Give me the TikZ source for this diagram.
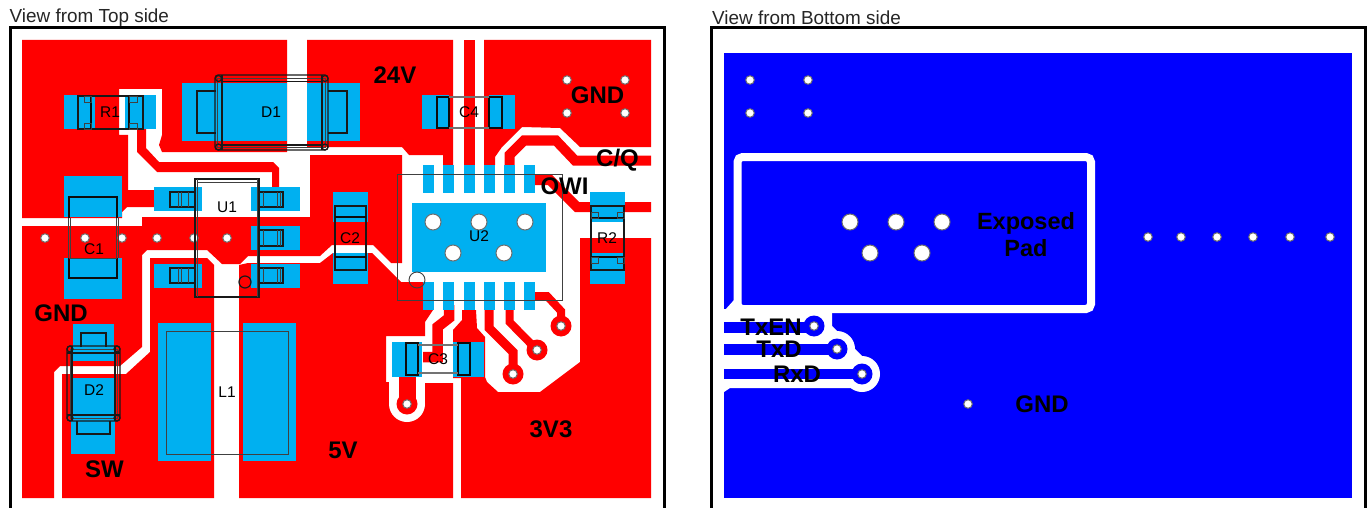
\documentclass[tikz,border=0pt]{standalone}
\usepackage{fontspec}
\setmainfont{Liberation Sans}
\definecolor{cu}{RGB}{255,0,0}
\definecolor{padc}{RGB}{0,176,240}
\definecolor{botc}{RGB}{0,0,255}
\definecolor{ring}{RGB}{110,110,110}
\tikzset{
  cutop/.style={fill=cu},
  tr/.style={draw=cu,line width=#1,miter limit=4},
  padb/.style={fill=padc},
  ol/.style={draw=black!90,line width=1.2pt},
  olt/.style={draw=black!75,line width=.7pt},
  olk/.style={draw=black!95,line width=1.7pt},
  via/.style={circle,fill=white,draw=ring,line width=1pt,minimum size=8.5pt,inner sep=0pt},
  hole/.style={circle,fill=white,draw=ring,line width=1pt,minimum size=16pt,inner sep=0pt},
  refd/.style={font=\fontsize{15.5}{17}\selectfont,text=black,inner sep=0pt},
  net/.style={font=\bfseries\fontsize{24}{26}\selectfont,text=black,inner sep=0pt},
  ttl/.style={font=\fontsize{18.9}{21}\selectfont,text=black!85,inner sep=0pt,anchor=west},
  frm/.style={draw=black,line width=3pt},
}
\begin{document}
\begin{tikzpicture}[x=1pt,y=-1pt]
\useasboundingbox (0,0) rectangle (1370,508);
\clip (0,0) rectangle (1370,508);
\fill[white] (0,0) rectangle (1370,508);
% ---- frames
\draw[frm] (10.5,512)--(10.5,27.5)--(664,27.5)--(664,512);
\draw[frm] (711.5,512)--(711.5,27.5)--(1365,27.5)--(1365,512);
\node[ttl] (t1) at (9.5,17.5) {View from Top side};
\node[ttl] (t2) at (712,17.5) {View from Bottom side};
% ---- top copper
\fill[cutop] (22,40)--(287,40)--(287,152)--(162,152)--(159,145)--(162,135)--(162,89)--(119,89)--(119,135)--(128,135)--(128,190)--(154,190)--(154,207)--(127,207)--(122,212)--(122,218)--(22,218)--cycle;
\fill[cutop] (307,40)--(453,40)--(453,165)--(443,165)--(443,155)--(409,155)--(402,147)--(307,147)--cycle;
\fill[cutop] (463.5,40) rectangle (474.5,170);
\fill[cutop] (484,40)--(651,40)--(651,147)--(580,147)--(560,128)--(522,127)--(502,147)--(495,157)--(495,165)--(484,165)--cycle;
\fill[cutop] (22,226)--(142,226)--(142,217)--(310,217)--(310,155)--(402,155)--(402,263)--(391,263)--(373,245)--(332,245)--(320,256)--(248,256)--(240,264)--(222,264)--(207,250)--(147,250)--(142,255)--(142,347)--(120,366)--(60,366)--(54,372)--(54,498)--(22,498)--cycle;
\fill[cutop] (62,374)--(126,374)--(150,352)--(150,258)--(207,258)--(214,265)--(214,498)--(62,498)--cycle;
\fill[cutop] (239,498)--(239,265)--(248,263)--(320,263)--(333,253)--(372,253)--(401,282)--(433,282)--(433,310)--(425,322)--(425,336)--(386,336)--(386,382)--(389,382)--(389,404)--(425,404)--(425,383)--(453,383)--(453,498)--cycle;
\fill[cutop] (580,238)--(651,238)--(651,498)--(461,498)--(461,378)--(453,378)--(453,330)--(462,320)--(462,310)--(476,310)--(477,328)--(485,337)--(485,377)--(487,382)--(498,392)--(540,392)--(580,362)--cycle;
% C3 via clearance
\fill[white] (407,404) circle[radius=18];
\fill[white] (389,380) rectangle (425,404);
% traces
\fill[cutop] (137,125)--(146,125)--(146,148)--(159,162)--(273,162)--(279,168)--(279,190)--(272,190)--(272,172)--(157,172)--(137,152)--cycle;
\draw[tr=10] (509.5,168)--(509.5,155)--(524,140.5)--(556,140.5)--(575,160.5)--(651,160.5);
\draw[tr=10] (530,180)--(550,180)--(577,207)--(651,207);
\draw[tr=10.5] (449,305)--(449,318)--(437.5,327)--(437.5,357)--(423,357);
\draw[tr=9] (489,305)--(489,328)--(513,352)--(513,374);
\draw[tr=8] (509.5,305)--(509.5,322)--(537,350);
\draw[tr=8] (530,296)--(547,296)--(561,311)--(561,326);
\draw[tr=17] (407.5,375)--(407.5,404);
\fill[cu] (407,404) circle[radius=10.5];
\fill[cu] (513,374) circle[radius=10.5];
\fill[cu] (537,350) circle[radius=10.5];
\fill[cu] (561,326) circle[radius=10.5];
% ---- pads
\foreach \a/\b/\c/\d in {64/95/95/129,125/95/156/129,182/83/287/141,307/83/360/141,422/95/449/129,489/95/515/129,
  64/176/122/217,64/258/122/299,333/192/368/222,333/253/368/284,392/342/422/377,453/342/484/377,
  590/192/625/222,590/253/625/284,154/187/202/211,251/187/300/211,251/226/300/250,154/264/202/288,251/264/300/288,
  158/323/211/461,243/323/296/461,73/324/114/361,71/378/115/454,412/203/546/272}
  {\fill[padb] (\a,\b) rectangle (\c,\d);}
\foreach \a in {423,443,463.5,484,504,524}
  {\fill[padb] (\a,165) rectangle ++(11,28);
   \fill[padb] (\a,282) rectangle ++(11,28);}
% ---- vias
\foreach \p/\x/\y in {a/45/238,b/85/238,c/122/238,d/157/238,e/194/238,f/227/238,g/567/80,h/625/80,i/567/113,j/625/113,k/407/404,l/513/374,m/537/350,n/561/326}
  {\node[via] (v\p) at (\x,\y) {};}
\foreach \p/\x/\y in {a/433/222,b/479/222,c/525/222,d/453/253,e/504/253}
  {\node[hole] (h\p) at (\x,\y) {};}
% ---- outlines
% R1
\draw[ol] (78,96) rectangle (143,129);
\draw[olk] (91,96)--(91,129) (129,96)--(129,129);
\draw[olt] (84,96) rectangle (91,102) (84,123) rectangle (91,129) (129,96) rectangle (137,102) (129,123) rectangle (137,129);
% D1
\draw[ol,rounded corners=3pt] (215,75) rectangle (328,150);
\draw[olt] (217.5,78.5) rectangle (325.5,147);
\draw[ol] (222,81.5)--(322,81.5) (222,145)--(322,145) (222,75)--(222,150) (322,75)--(322,150);
\draw[ol] (216,91)--(197,91)--(197,133)--(216,133) (328,91)--(347,91)--(347,133)--(328,133);
\foreach \x/\y in {218.5/78.5,325/78.5,218.5/147,325/147}{\draw[ol] (\x,\y) circle[radius=3];}
% C4
\draw[olk] (437,97) rectangle (449,128) (489,97) rectangle (502,128);
\draw[ol,black!55] (449,97)--(489,97) (449,128)--(489,128);
% C1
\draw[olk] (69,197)--(117,197) (69,278)--(117,278) (69,196)--(69,218) (117,196)--(117,218) (69,258)--(69,279) (117,258)--(117,279);
\draw[olt] (70,218)--(70,258) (116,218)--(116,258) (68,218)--(68,258) (118,218)--(118,258) (69,258)--(117,258);
% C2
\draw[ol] (335,206) rectangle (366,270);
\draw[olk] (335,217)--(366,217) (335,257)--(366,257);
% C3
\draw[olk] (406,343) rectangle (418,375) (458,343) rectangle (470,375);
\draw[ol,black!55] (418,345)--(458,345) (418,373)--(458,373);
% R2
\draw[ol] (591,206) rectangle (624,270);
\draw[olk] (591,218)--(624,218) (591,257)--(624,257);
\draw[olt] (591,212) rectangle (598,218) (617,212) rectangle (624,218) (591,257) rectangle (598,263) (617,257) rectangle (624,263);
% U1
\draw[ol] (195,179) rectangle (259,297);
\draw[olt] (197,182)--(257,182) (197,179)--(197,297) (257,179)--(257,297);
\foreach \y in {192,268}{
  \draw[ol] (170,\y) rectangle (195,\y+15);
  \draw[olt] (178,\y)--(178,\y+15) (181,\y)--(181,\y+15) (188,\y)--(188,\y+15);
  \draw[ol] (259,\y) rectangle (283,\y+15);
  \draw[olt] (263,\y)--(263,\y+15) (277,\y)--(277,\y+15) (280,\y)--(280,\y+15);}
\draw[ol] (259,230) rectangle (283,246);
\draw[olt] (263,230)--(263,246) (277,230)--(277,246) (280,230)--(280,246);
\draw[ol] (245,282) circle[radius=6];
% U2
\draw[olt] (397,174) rectangle (562,300);
\draw[draw=black!75,line width=.9pt] (417,280) circle[radius=8];
% L1
\draw[olt] (166,331) rectangle (288,454);
% D2
\draw[ol,rounded corners=3pt] (67,346) rectangle (120,421);
\draw[olt] (70,349) rectangle (117,418);
\draw[ol] (67,353)--(120,353) (67,415)--(120,415) (72,346)--(72,421) (115,346)--(115,421);
\draw[ol] (81,347)--(81,333)--(106,333)--(106,347) (77,421)--(77,434)--(110,434)--(110,421);
\foreach \x/\y in {70/349,117/349,70/418,117/418}{\draw[ol] (\x,\y) circle[radius=3];}
% ---- reference designators
\node[refd] (rR1) at (110,112) {R1};
\node[refd] (rD1) at (271,112) {D1};
\node[refd] (rC4) at (469,112) {C4};
\node[refd] (rU1) at (227,207) {U1};
\node[refd] (rC1) at (94,249) {C1};
\node[refd] (rC2) at (350,238) {C2};
\node[refd] (rU2) at (479,236) {U2};
\node[refd] (rR2) at (607,238) {R2};
\node[refd] (rC3) at (438,359) {C3};
\node[refd] (rD2) at (94,390) {D2};
\node[refd] (rL1) at (227,392) {L1};
% ---- net labels
\node[net] (n24) at (395,75) {24V};
\node[net] (ngt) at (597.5,95) {GND};
\node[net] (ncq) at (617.5,160) {C/Q};
\node[net] (now) at (564.5,186) {OWI};
\node[net] (ngl) at (61,313) {GND};
\node[net] (nsw) at (104.5,469) {SW};
\node[net] (n5v) at (343,450) {5V};
\node[net] (n33) at (551,429) {3V3};
% ==== bottom copper
\fill[botc] (724,53) rectangle (1352,498);
\draw[white,line width=8pt,rounded corners=5pt] (737.5,157) rectangle (1091,309);
\fill[white] (734,300)--(741,300)--(741,313)--(725,313)--(725,310)--cycle;
\fill[white] (724,309)--(832,309)--(832,326)--(837,331)--(862,356)--(862,388)--(730,388)--(724,392)--cycle;
\foreach \x/\y in {814/326,837/349,862/374}{\fill[white] (\x,\y) circle[radius=18];}
\fill[botc] (724,322) rectangle (814,333);
\fill[botc] (724,344) rectangle (837,355);
\fill[botc] (724,369) rectangle (862,379);
\foreach \x/\y in {814/326,837/349,862/374}{\fill[botc] (\x,\y) circle[radius=10.5];}
\foreach \p/\x/\y in {a/814/326,b/837/349,c/862/374,d/750/80,e/808/80,f/750/113,g/808/113,h/1148/237,i/1181/237,j/1217/237,k/1253/237,l/1290/237,m/1330/237,n/968/404}
  {\node[via] (w\p) at (\x,\y) {};}
\foreach \p/\x/\y in {a/850/222,b/896/222,c/942/222,d/870/253,e/922/253}
  {\node[hole] (x\p) at (\x,\y) {};}
\node[net,font=\bfseries\fontsize{23.5}{25}\selectfont,align=center] (nep) at (1026,235) {Exposed\\[2pt]Pad};
\node[net] (ntxe) at (771,327) {TxEN};
\node[net] (ntxd) at (779,349) {TxD};
\node[net] (nrxd) at (797,374) {RxD};
\node[net] (ngb) at (1042,404) {GND};
\end{tikzpicture}
\end{document}
